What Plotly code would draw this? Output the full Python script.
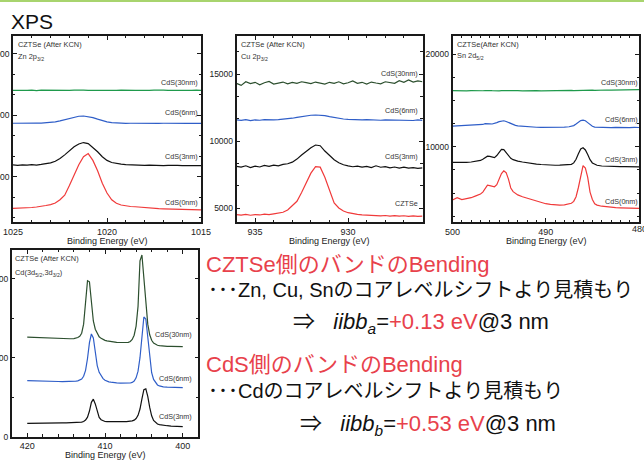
import plotly.graph_objects as go

W, H = 644, 470

# ---------------- data ----------------
# Panel 1: Zn 2p3/2
zn_x = [1025.0, 1024.75, 1024.5, 1024.25, 1024.0, 1023.75, 1023.5, 1023.25, 1023.0, 1022.75,
        1022.5, 1022.25, 1022.0, 1021.75, 1021.5, 1021.25, 1021.0, 1020.75, 1020.5, 1020.25,
        1020.0, 1019.75, 1019.5, 1019.25, 1019.0, 1018.75, 1018.5, 1018.25, 1018.0, 1017.75,
        1017.5, 1017.25, 1017.0, 1016.75, 1016.5, 1016.25, 1016.0, 1015.75, 1015.5, 1015.25, 1015.0]
zn_0nm = [7455, 7470, 7440, 7500, 7520, 7560, 7600, 7680, 7760, 7880,
          8150, 8520, 9300, 10200, 11000, 11650, 11900, 11350, 10500, 9500,
          8700, 8150, 7860, 7720, 7650, 7600, 7580, 7540, 7500, 7470,
          7450, 7430, 7410, 7400, 7380, 7370, 7350, 7340, 7330, 7330, 7320]
zn_3nm = [10980, 10950, 10990, 10960, 11000, 10970, 11020, 11060, 11150, 11280,
          11500, 11800, 12150, 12450, 12680, 12800, 12720, 12400, 12050, 11650,
          11350, 11180, 11100, 11040, 11010, 10990, 10960, 10980, 10950, 10970,
          10940, 10960, 10930, 10950, 10920, 10950, 10930, 10940, 10910, 10940, 10920]
zn_6nm = [14370, 14360, 14380, 14365, 14370, 14375, 14380, 14400, 14430, 14480,
          14560, 14660, 14780, 14880, 14940, 14960, 14920, 14830, 14700, 14580,
          14480, 14420, 14390, 14375, 14365, 14370, 14360, 14372, 14365, 14358,
          14370, 14362, 14368, 14355, 14365, 14360, 14370, 14358, 14362, 14366, 14360]
zn_30nm = [17050, 17030, 17070, 17040, 17060, 17020, 17055, 17045, 17070, 17035,
           17050, 17065, 17040, 17055, 17030, 17060, 17050, 17075, 17040, 17050,
           17030, 17060, 17045, 17055, 17070, 17040, 17050, 17035, 17065, 17045,
           17055, 17030, 17060, 17050, 17040, 17070, 17045, 17055, 17035, 17060, 17050]

# Panel 2: Cu 2p3/2
cu_x = [936.0, 935.75, 935.5, 935.25, 935.0, 934.75, 934.5, 934.25, 934.0, 933.75,
        933.5, 933.25, 933.0, 932.75, 932.5, 932.25, 932.0, 931.75, 931.5, 931.25,
        931.0, 930.75, 930.5, 930.25, 930.0, 929.75, 929.5, 929.25, 929.0, 928.75,
        928.5, 928.25, 928.0, 927.75, 927.5, 927.25, 927.0, 926.75, 926.5, 926.25, 926.0]
cu_czts = [4500, 4470, 4520, 4460, 4510, 4480, 4540, 4500, 4560, 4600,
           4680, 4850, 5150, 5500, 6150, 6850, 7600, 8080, 8050, 7300,
           6300, 5380, 5000, 4780, 4650, 4560, 4520, 4480, 4460, 4430,
           4450, 4410, 4440, 4400, 4430, 4390, 4420, 4380, 4410, 4370, 4400]
cu_3nm = [8100, 8050, 8150, 8020, 8120, 8060, 8180, 8110, 8200, 8150,
          8250, 8300, 8420, 8650, 8950, 9250, 9500, 9700, 9650, 9250,
          8900, 8600, 8380, 8230, 8150, 8080, 8120, 8050, 8100, 8020,
          8150, 8040, 8090, 8000, 8060, 7980, 8050, 7970, 8010, 7960, 8000]
cu_6nm = [11580, 11540, 11600, 11520, 11570, 11550, 11590, 11560, 11580, 11600,
          11620, 11650, 11700, 11760, 11820, 11880, 11920, 11940, 11930, 11890,
          11820, 11750, 11690, 11640, 11610, 11590, 11600, 11570, 11590, 11560,
          11580, 11550, 11570, 11560, 11540, 11580, 11550, 11560, 11530, 11570, 11540]
cu_30nm = [14300, 14150, 14420, 14280, 14380, 14200, 14350, 14450, 14250, 14330,
           14400, 14260, 14380, 14300, 14420, 14350, 14280, 14400, 14320, 14250,
           14380, 14300, 14420, 14270, 14350, 14480, 14300, 14380, 14250, 14400,
           14330, 14270, 14420, 14350, 14300, 14500, 14380, 14550, 14400, 14480, 14420]

# Panel 3: Sn
sn_x = [500, 499.5, 499, 498.5, 498, 497.5, 497,
        496.75, 496.5, 496.25, 496, 495.75, 495.5, 495.25, 495, 494.75, 494.5, 494.25, 494, 493.75, 493.5, 493.25,
        493, 492.5, 492, 491.5, 491, 490.5, 490, 489.5, 489, 488.5, 488, 487.5,
        487.25, 487, 486.75, 486.5, 486.25, 486, 485.75, 485.5, 485.25, 485, 484.75,
        484.5, 484, 483.5, 483, 482.5, 482, 481.5, 481, 480.5, 480]
sn_0nm = [4250, 4500, 4300, 4400, 4500, 4700, 4900,
          5100, 5500, 5850, 5800, 5700, 5680, 5900, 6550, 7100, 7400, 7200, 6500, 5550, 5150, 4950,
          4800, 4600, 4450, 4300, 4100, 3950, 3850, 3780, 3720, 3700, 3720, 3800,
          3900, 4100, 4600, 5600, 7000, 7950, 7700, 6700, 5100, 4300, 3850,
          3700, 3580, 3500, 3450, 3420, 3400, 3380, 3360, 3350, 3340]
sn_3nm = [8300, 8280, 8330, 8300, 8350, 8420, 8520,
          8650, 8850, 8980, 8950, 8850, 8820, 9050, 9450, 9700, 9680, 9350, 8950, 8750, 8600, 8500,
          8450, 8350, 8250, 8180, 8120, 8080, 8030, 8020, 8000, 8010, 8020, 8050,
          8100, 8250, 8650, 9250, 9750, 9880, 9650, 9150, 8600, 8250, 8100,
          8000, 7920, 7880, 7860, 7850, 7840, 7850, 7830, 7840, 7820]
sn_6nm = [12220, 12250, 12200, 12260, 12280, 12300, 12350,
          12400, 12480, 12500, 12460, 12450, 12500, 12600, 12700, 12780, 12800, 12720, 12600, 12450, 12350, 12300,
          12250, 12200, 12150, 12120, 12100, 12090, 12080, 12110, 12070, 12100, 12120, 12150,
          12200, 12280, 12450, 12650, 12820, 12870, 12800, 12600, 12350, 12200, 12120,
          12100, 12070, 12090, 12060, 12080, 12050, 12090, 12060, 12080, 12070]
sn_30nm = [16040, 16010, 16060, 16030, 16050, 16020, 16045, 16035, 16060, 16025,
           16050, 16040, 16015, 16055, 16030, 16050, 16020, 16045, 16060, 16035,
           16030, 16055, 16040, 16020, 16050, 16035, 16060, 16030, 16045, 16055,
           16040, 16065, 16035, 16050, 16070, 16045, 16060, 16075, 16050, 16080,
           16065, 16090, 16070, 16095, 16085, 16100, 16090, 16115, 16105, 16125,
           16120, 16140, 16130, 16155, 16160]

# Panel 4: Cd 3d
cd_x = [420, 419.5, 419, 418.5, 418, 417.5, 417, 416.5, 416, 415.5, 415, 414.5,
        414, 413.75, 413.5, 413.25, 413, 412.75, 412.5, 412.25, 412, 411.75, 411.5, 411.25, 411,
        410.75, 410.5, 410.25, 410, 409.75, 409.5, 409.25, 409,
        408.5, 408,
        407.5, 407.25, 407, 406.75, 406.5, 406.25, 406, 405.75, 405.5, 405.25, 405, 404.75, 404.5,
        404.25, 404, 403.75, 403.5, 403.25, 403, 402.75, 402.5,
        402, 401.5, 401, 400.5, 400]
cd_3nm = [3390, 3420, 3380, 3440, 3410, 3450, 3430, 3460, 3470, 3480, 3490, 3510,
          3520, 3540, 3560, 3600, 3680, 3850, 4200, 4950, 6500, 8700, 9500, 8300, 6300,
          4900, 4300, 4000, 3850, 3800, 3780, 3770, 3760,
          3760, 3780,
          3800, 3820, 3850, 3900, 4000, 4200, 4600, 5400, 7000, 9600, 11900, 12100, 10200,
          7400, 5300, 4100, 3500, 3200, 3050, 2950, 2880,
          2780, 2700, 2650, 2580, 2530]
cd_6nm = [14200, 14150, 14180, 14120, 14100, 14080, 14050, 14000, 13980, 13950, 13950, 13980,
          14000, 14050, 14150, 14300, 14600, 15300, 16800, 19800, 23800, 26000, 25000, 21500, 18000,
          16300, 15300, 14700, 14300, 14050, 13900, 13800, 13700,
          13620, 13560,
          13530, 13520, 13540, 13600, 13750, 14100, 14900, 16600, 20000, 25500, 30300, 29800, 25000,
          19500, 16200, 14500, 13600, 13100, 12850, 12700, 12620,
          12550, 12500, 12470, 12430, 12400]
cd_30nm = [25200, 25150, 25180, 25100, 25050, 25000, 24950, 24900, 24850, 24800, 24780, 24800,
           24850, 24950, 25100, 25400, 26200, 28500, 34000, 39500, 39200, 33800, 29300, 27200, 26000,
           25300, 24900, 24600, 24400, 24250, 24150, 24080, 24000,
           23900, 23850,
           23800, 23820, 23900, 24100, 24600, 25700, 28000, 33000, 44500, 46000, 40000, 34000, 28500,
           25800, 24400, 23700, 23350, 23150, 23050, 22980, 22930,
           22880, 22850, 22820, 22800, 22790]

RED = "#f03a3a"
BLUE = "#2f5ec8"
GREEN = "#1f9a4c"
DKGREEN = "#2c4f2e"
BLACK = "#111111"
TXTRED = "#e8414b"

def fx(p):
    return p / W

def fy(p):
    return 1 - p / H

fig = go.Figure()

panels = [
    ("", zn_x, [(zn_0nm, RED), (zn_3nm, BLACK), (zn_6nm, BLUE), (zn_30nm, GREEN)]),
    ("2", cu_x, [(cu_czts, RED), (cu_3nm, BLACK), (cu_6nm, BLUE), (cu_30nm, DKGREEN)]),
    ("3", sn_x, [(sn_0nm, RED), (sn_3nm, BLACK), (sn_6nm, BLUE), (sn_30nm, GREEN)]),
    ("4", cd_x, [(cd_3nm, BLACK), (cd_6nm, BLUE), (cd_30nm, DKGREEN)]),
]
for sid, xs, series in panels:
    for ys, col in series:
        fig.add_trace(go.Scatter(x=xs, y=ys, mode="lines", line=dict(color=col, width=1.2),
                                 xaxis="x" + sid, yaxis="y" + sid, showlegend=False, hoverinfo="skip"))

axis_common = dict(showline=True, linecolor="#1a1a1a", linewidth=1.5, mirror="allticks",
                   ticks="inside", ticklen=4, tickwidth=1, tickcolor="#1a1a1a",
                   showgrid=False, zeroline=False, automargin=False,
                   tickfont=dict(family="Liberation Sans, Arial", size=9, color="#222"))

def xax(domain, rng, dtick, minor, anchor):
    d = dict(axis_common)
    d.update(domain=domain, range=rng, dtick=dtick, tick0=0, anchor=anchor,
             minor=dict(dtick=minor, tick0=0, ticklen=2.5, tickwidth=1, tickcolor="#1a1a1a", ticks="inside"))
    return d

def yax(domain, rng, tickvals, minor, tick0, anchor):
    d = dict(axis_common)
    d.update(domain=domain, range=rng, tickmode="array", tickvals=tickvals,
             ticktext=[str(v) for v in tickvals], anchor=anchor,
             tickfont=dict(family="Liberation Sans, Arial", size=8.5, color="#222"),
             minor=dict(dtick=minor, tick0=tick0, ticklen=2.5, tickwidth=1, tickcolor="#1a1a1a", ticks="inside"))
    return d

top_dom = [fy(222), fy(36)]
fig.update_layout(
    xaxis=xax([fx(13), fx(201)], [1025, 1015], 5, 1, "y"),
    yaxis=yax(top_dom, [6341, 21463], [10000, 15000, 20000], 5000 / 3, 10000, "x"),
    xaxis2=xax([fx(236.5), fx(422.5)], [936, 926], 5, 1, "y2"),
    yaxis2=yax(top_dom, [3955, 17836], [5000, 10000, 15000], 5000 / 3, 5000, "x2"),
    xaxis3=xax([fx(452.5), fx(639)], [500, 480], 10, 1, "y3"),
    yaxis3=yax(top_dom, [1877, 21942], [10000, 20000], 2500, 0, "x3"),
    xaxis4=xax([fx(11.7), fx(198.3)], [422, 398], 10, 2, "y4"),
    yaxis4=yax([fy(436.7), fy(250)], [0, 47266], [0, 20000, 40000], 10000, 0, "x4"),
)

ann = []
LBL = dict(family="Liberation Sans, Arial", size=7.2, color="#333")

def lab(text, right, y):
    ann.append(dict(text=text, x=fx(right), y=fy(y), xref="paper", yref="paper",
                    xanchor="right", yanchor="middle", showarrow=False, font=LBL))

def tl(text, left, y, size=7.4):
    ann.append(dict(text=text, x=fx(left), y=fy(y), xref="paper", yref="paper",
                    xanchor="left", yanchor="middle", showarrow=False,
                    font=dict(family="Liberation Sans, Arial", size=size, color="#333")))

# panel 1 labels
tl("CZTSe (After KCN)", 16, 44)
tl("Zn 2p<sub>3/2</sub>", 16, 57)
lab("CdS(30nm)", 200, 83); lab("CdS(6nm)", 200, 112); lab("CdS(3nm)", 200, 156); lab("CdS(0nm)", 200, 202)
# panel 2
tl("CZTSe (After KCN)", 239, 45)
tl("Cu 2p<sub>3/2</sub>", 239, 57)
lab("CdS(30nm)", 420, 73); lab("CdS(6nm)", 420, 110); lab("CdS(3nm)", 420, 156); lab("CZTSe", 420, 204)
# panel 3
tl("CZTSe(After KCN)", 455, 44)
tl("Sn 2d<sub>5/2</sub>", 455, 56)
lab("CdS(30nm)", 640, 82); lab("CdS(6nm)", 640, 120); lab("CdS(3nm)", 640, 159); lab("CdS(0nm)", 640, 201)
# panel 4
tl("CZTSe (After KCN)", 13, 258)
tl("Cd(3d<sub>5/2</sub>,3d<sub>3/2</sub>)", 13, 273)
lab("CdS(30nm)", 194, 334); lab("CdS(6nm)", 194, 378); lab("CdS(3nm)", 194, 416)

# axis titles
AX = dict(family="Liberation Sans, Arial", size=9, color="#222")
for cx, cy in [(107, 241), (329.5, 241), (546, 241), (105, 455)]:
    ann.append(dict(text="Binding Energy (eV)", x=fx(cx), y=fy(cy), xref="paper", yref="paper",
                    xanchor="center", yanchor="middle", showarrow=False, font=AX))
# right-edge tick label of panel 3 (partly off the page, as in the original)
ann.append(dict(text="480", x=fx(639), y=fy(229), xref="paper", yref="paper",
                xanchor="center", yanchor="middle", showarrow=False, font=AX))

# title
ann.append(dict(text="XPS", x=fx(9), y=fy(21), xref="paper", yref="paper", xanchor="left",
                yanchor="middle", showarrow=False,
                font=dict(family="Liberation Sans, Arial", size=21, color="#111")))

# right-hand text block
JP = "Liberation Sans, Arial, Noto Sans CJK JP"
def txt(text, left, y, size):
    ann.append(dict(text=text, x=fx(left), y=fy(y), xref="paper", yref="paper", xanchor="left",
                    yanchor="middle", showarrow=False, font=dict(family=JP, size=size, color="#111")))

red = lambda s: "<span style='color:%s'>%s</span>" % (TXTRED, s)
txt(red("CZTSe側のバンドのBending"), 204, 264, 22)
txt("･･･Zn, Cu, Snのコアレベルシフトより見積もり", 206, 290, 20)
txt("⇒   <i>iibb<sub>a</sub></i>=" + red("+0.13 eV") + "@3 nm", 291, 323, 22)
txt(red("CdS側のバンドのBending"), 204, 364, 22)
txt("･･･Cdのコアレベルシフトより見積もり", 206, 391, 20)
txt("⇒   <i>iibb<sub>b</sub></i>=" + red("+0.53 eV") + "@3 nm", 298, 425, 22)

fig.update_layout(
    annotations=ann,
    width=W, height=H, margin=dict(l=0, r=0, t=0, b=0),
    paper_bgcolor="white", plot_bgcolor="white",
    shapes=[dict(type="line", xref="paper", yref="paper", x0=0, x1=1, y0=fy(1), y1=fy(1),
                 line=dict(color="#a8d46e", width=2))],
)

fig.write_html("out.html", config={"displayModeBar": False})
